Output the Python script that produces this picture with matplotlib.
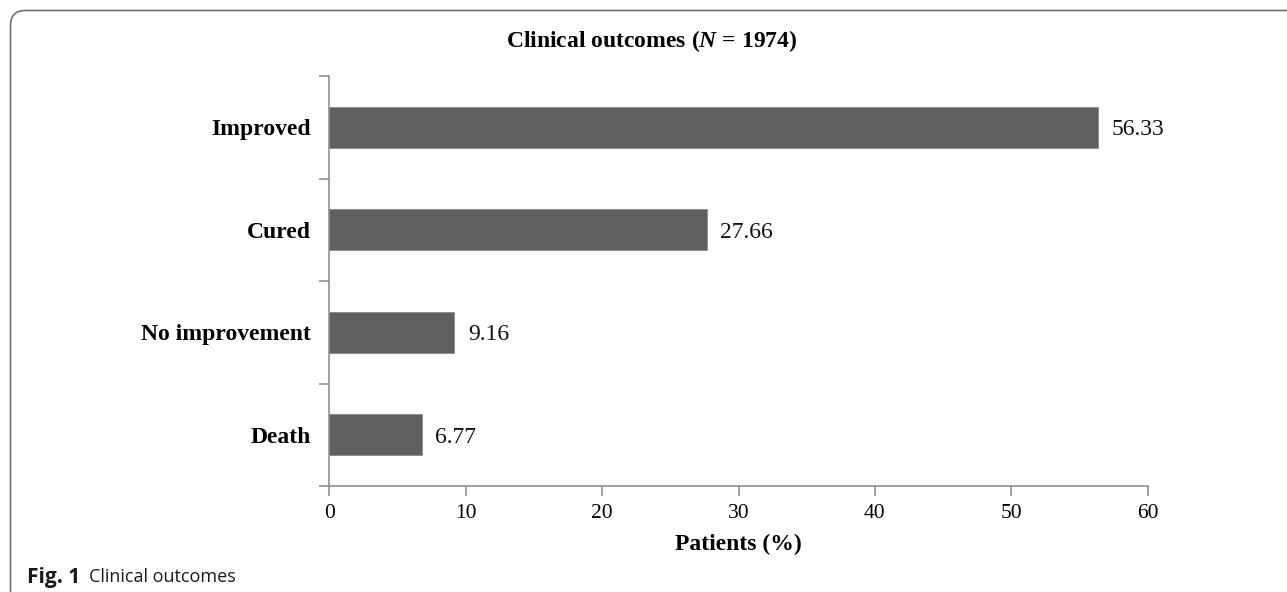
import matplotlib
matplotlib.use('Agg')
import matplotlib.pyplot as plt
from matplotlib.patches import FancyBboxPatch
from matplotlib.transforms import IdentityTransform

# data
categories = ['Improved', 'Cured', 'No improvement', 'Death']
values = [56.33, 27.66, 9.16, 6.77]
x_ticks = [0, 10, 20, 30, 40, 50, 60]

plt.rcParams['font.family'] = 'Liberation Serif'
plt.rcParams['mathtext.fontset'] = 'custom'
plt.rcParams['mathtext.bfit'] = 'Liberation Serif:italic:bold'
plt.rcParams['mathtext.rm'] = 'Liberation Serif'

W, H = 1287, 592
fig = plt.figure(figsize=(W / 100, H / 100), dpi=100)
ax = fig.add_axes([329.3 / W, 1 - 486 / H, (1147.7 - 329.3) / W, (486 - 76) / H])

axis_col = '#888888'
pos = list(range(len(categories)))
ax.barh(pos, values, height=0.4, color='#606060', edgecolor='#8a8a8a', linewidth=0.6)
for p, v in zip(pos, values):
    ax.text(v + 1.0, p, f'{v:.2f}', va='center_baseline', ha='left', fontsize=17, color='#111111')

ax.set_xlim(0, 60)
ax.set_ylim(len(categories) - 0.5, -0.5)
ax.set_xticks(x_ticks)
ax.set_xticklabels([str(t) for t in x_ticks], fontsize=15.5)
ax.set_yticks([p - 0.5 for p in pos] + [len(categories) - 0.5])
ax.set_yticklabels([])
ax.set_yticks(pos, minor=True)
ax.set_yticklabels(categories, minor=True, fontsize=17, fontweight='bold')
ax.tick_params(axis='y', which='minor', length=0, pad=13)
ax.tick_params(axis='both', which='major', length=7, width=1.1, color=axis_col, direction='out')
ax.tick_params(axis='x', pad=6)

for s in ['top', 'right']:
    ax.spines[s].set_visible(False)
for s in ['left', 'bottom']:
    ax.spines[s].set_color(axis_col)
    ax.spines[s].set_linewidth(1.1)

ax.set_xlabel('Patients (%)', fontsize=17, fontweight='bold', labelpad=8)

fig.text(652 / W, 1 - 41 / H, 'Clinical outcomes (' + r'$\mathbfit{N}$' + ' = 1974)',
         ha='center', va='center', fontsize=17, fontweight='bold')

# caption
fig.text(27 / W, 1 - 574.5 / H, 'Fig. 1', ha='left', va='center_baseline', fontsize=15,
         fontweight='bold', family='Open Sans', color='#1a1a1a')
fig.text(89 / W, 1 - 574.5 / H, 'Clinical outcomes', ha='left', va='center_baseline', fontsize=13,
         family='Open Sans', color='#1a1a1a')

# frame around the figure
frame = FancyBboxPatch((10.5, -60), 1400, H - 10.5 + 60,
                       boxstyle='round,pad=0,rounding_size=15',
                       fill=False, edgecolor='#707070', linewidth=1.2,
                       transform=IdentityTransform())
fig.add_artist(frame)

fig.savefig('out.png', dpi=100)
